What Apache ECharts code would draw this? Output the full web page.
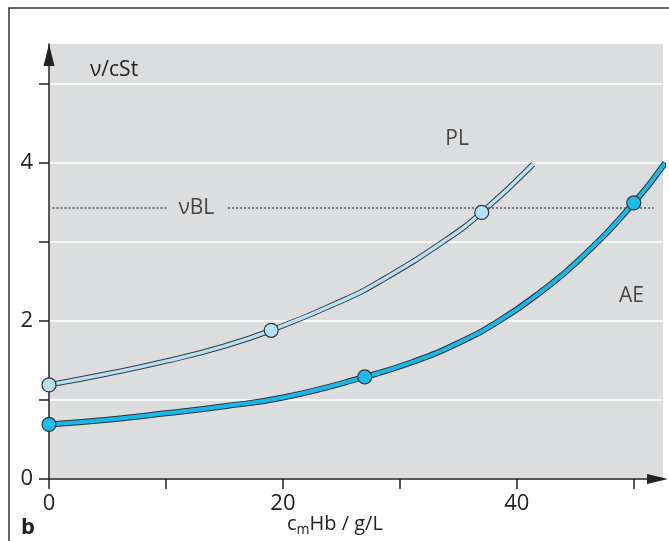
<!DOCTYPE html>
<html>
<head>
<meta charset="utf-8">
<script src="https://cdn.jsdelivr.net/npm/echarts@6/dist/echarts.min.js"></script>
<style>
html, body { margin: 0; padding: 0; background: #fff; }
#chart { width: 669px; height: 541px; }
</style>
</head>
<body>
<div id="chart"></div>
<script>
// axis ticks / labels
const xTicks = [0, 10, 20, 30, 40, 50]
const xLabels = [0, 20, 40]
const yTicks = [0, 1, 2, 3, 4, 5]
const yLabels = [0, 2, 4]

// curves
const plX = [0, 5, 10, 15, 19, 25, 28.3, 33.7, 37, 41.4]
const plY = [1.19, 1.33, 1.49, 1.68, 1.88, 2.25, 2.5, 3.0, 3.37, 3.98]
const aeX = [0, 5, 10, 15, 20, 27, 31.1, 35, 38.5, 42, 45.4, 50, 52.7]
const aeY = [0.69, 0.75, 0.83, 0.92, 1.03, 1.29, 1.48, 1.72, 2.0, 2.36, 2.78, 3.49, 4.0]

// circled points
const plMarkX = [0, 19, 37]
const plMarkY = [1.19, 1.88, 3.37]
const aeMarkX = [0, 27, 50]
const aeMarkY = [0.69, 1.29, 3.49]

// blood viscosity reference line
const vBL = 3.43
const vBLSegments = [[0.3, 10.2], [15.3, 51.7]]

const curveLabels = ['PL', 'AE', 'νBL']
const curveLabelX = [34.9, 49.8, 12.6]
const curveLabelY = [4.3, 2.31, 3.43]

const pairs = (xs, ys) => xs.map((x, i) => [x, ys[i]])

const txt = '#222'
const font = 'Open Sans'

let chart = echarts.init(document.getElementById('chart'))
chart.setOption({
    animation: false,
    grid: {
        left: 49,
        top: 44,
        right: 6,
        bottom: 62,
        show: true,
        backgroundColor: '#dcdddf',
        borderWidth: 0
    },
    graphic: [
        {
            type: 'rect',
            shape: { x: 9, y: 8, width: 800, height: 700 },
            style: { fill: 'none', stroke: '#333', lineWidth: 1.5 },
            silent: true
        },
        {
            type: 'text',
            left: 90,
            top: 60,
            style: { text: 'ν/cSt', fontSize: 21, fontFamily: font, fill: txt }
        },
        {
            type: 'text',
            left: 21,
            top: 517,
            style: { text: 'b', fontSize: 22, fontWeight: 'bold', fontFamily: font, fill: txt }
        },
        {
            type: 'text',
            left: 287,
            top: 514,
            style: {
                text: '{a|c}{s|m}{a|Hb / g/L}',
                fontFamily: font,
                fill: txt,
                rich: {
                    a: { fontSize: 20, lineHeight: 23, verticalAlign: 'top', fontFamily: font, color: txt },
                    s: { fontSize: 14, lineHeight: 12, verticalAlign: 'bottom', fontFamily: font, color: txt }
                }
            }
        }
    ],
    xAxis: {
        type: 'value',
        min: 0,
        max: 52.5,
        interval: 10,
        axisLine: {
            show: true,
            symbol: ['none', 'triangle'],
            symbolSize: [10, 21],
            symbolOffset: [0, -5.5],
            lineStyle: { color: txt, width: 1.5 }
        },
        axisTick: {
            show: true,
            length: 10,
            customValues: xTicks,
            lineStyle: { color: txt, width: 1.5 }
        },
        axisLabel: {
            customValues: xLabels,
            margin: 14,
            fontSize: 22,
            fontFamily: font,
            color: txt
        },
        splitLine: { show: false }
    },
    yAxis: {
        type: 'value',
        min: 0,
        max: 5.5,
        interval: 1,
        axisLine: {
            show: true,
            symbol: ['none', 'triangle'],
            symbolSize: [11, 22],
            symbolOffset: [0, -11],
            lineStyle: { color: txt, width: 1.5 }
        },
        axisTick: {
            show: true,
            length: 10,
            customValues: yTicks,
            lineStyle: { color: txt, width: 1.5 }
        },
        axisLabel: {
            customValues: yLabels,
            margin: 16,
            fontSize: 22,
            fontFamily: font,
            color: txt
        },
        splitLine: {
            show: true,
            lineStyle: { color: '#ffffff', width: 1.5 }
        }
    },
    series: [
        {
            type: 'line',
            data: [],
            markLine: {
                silent: true,
                symbol: 'none',
                label: { show: false },
                lineStyle: { color: '#555', width: 1.5, type: [2, 2] },
                data: vBLSegments.map(s => [{ coord: [s[0], vBL] }, { coord: [s[1], vBL] }])
            }
        },
        {
            type: 'line',
            data: pairs(plX, plY),
            smooth: 0.5,
            symbol: 'none',
            clip: false,
            lineStyle: { color: '#3a3a3a', width: 5.5 }
        },
        {
            type: 'line',
            data: pairs(plX, plY),
            smooth: 0.5,
            symbol: 'none',
            clip: false,
            lineStyle: { color: '#b4e1f6', width: 3.5 }
        },
        {
            type: 'line',
            data: pairs(aeX, aeY),
            smooth: 0.5,
            symbol: 'none',
            clip: false,
            lineStyle: { color: '#2e2e2e', width: 6 }
        },
        {
            type: 'line',
            data: pairs(aeX, aeY),
            smooth: 0.5,
            symbol: 'none',
            clip: false,
            lineStyle: { color: '#18b9ea', width: 4 }
        },
        {
            type: 'scatter',
            data: pairs(plMarkX, plMarkY),
            symbolSize: 14,
            clip: false,
            itemStyle: { color: '#b4e1f6', borderColor: '#333', borderWidth: 1.2, opacity: 1 },
            z: 5
        },
        {
            type: 'scatter',
            data: pairs(aeMarkX, aeMarkY),
            symbolSize: 14,
            clip: false,
            itemStyle: { color: '#18bdec', borderColor: '#333', borderWidth: 1.2, opacity: 1 },
            z: 5
        },
        {
            type: 'scatter',
            symbolSize: 0,
            data: curveLabels.map((n, i) => ({ name: n, value: [curveLabelX[i], curveLabelY[i]] })),
            label: {
                show: true,
                position: 'inside',
                formatter: p => p.name,
                fontSize: 21,
                fontFamily: font,
                color: txt
            }
        }
    ]
})
</script>
</body>
</html>
